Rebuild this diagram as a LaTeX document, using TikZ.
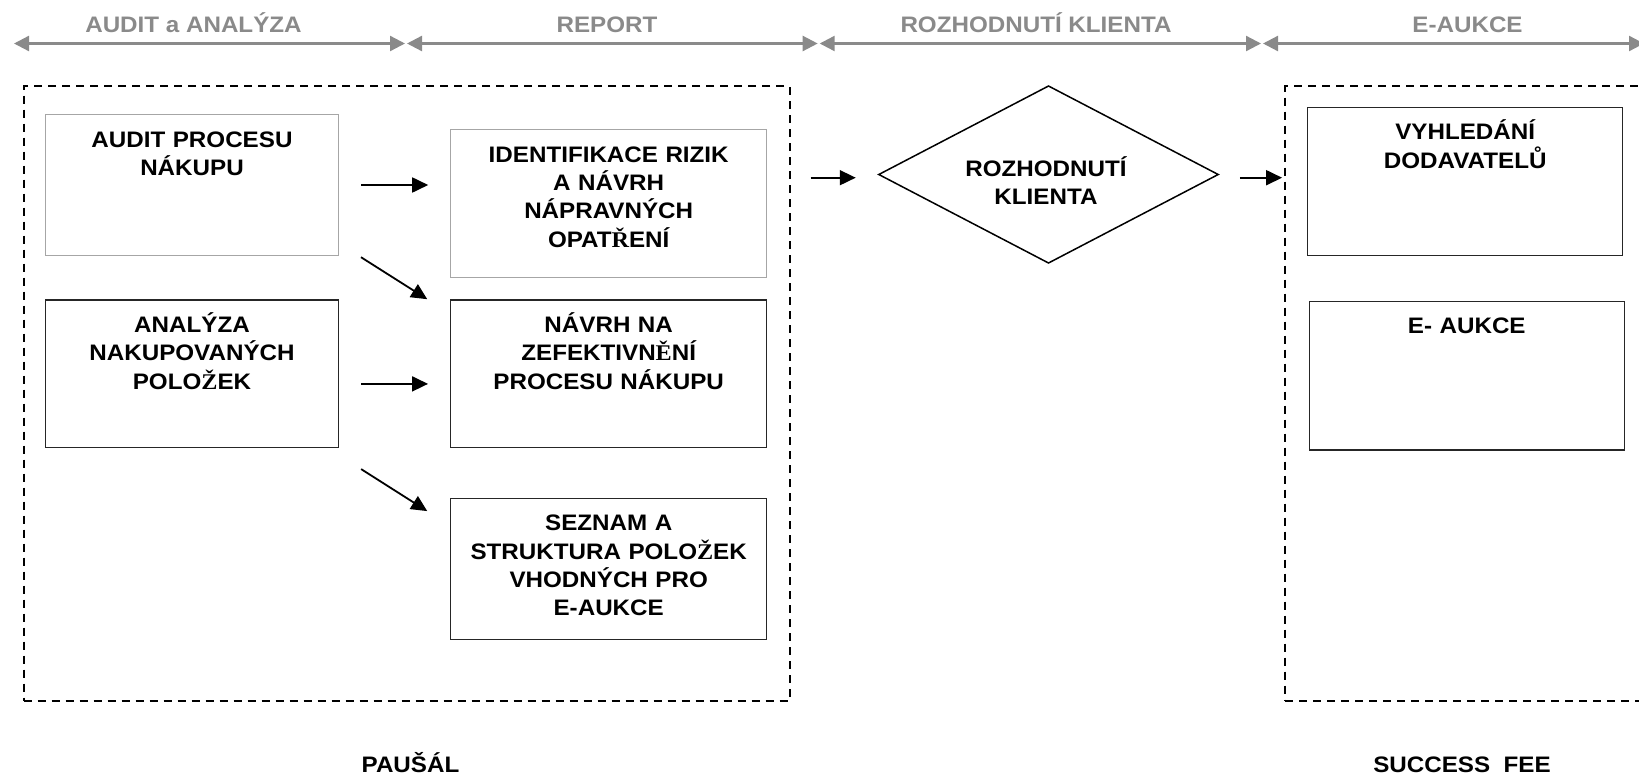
\documentclass[tikz,border=0pt]{standalone}
\usepackage{fontspec}
\setmainfont[FakeStretch=1.08]{Liberation Sans}
\newfontfamily\tnr[FakeStretch=1.08]{Liberation Serif}
\usepackage{tikz}
\usetikzlibrary{shapes.geometric, positioning, arrows.meta}
\definecolor{phasegray}{HTML}{8A8A8A}
\definecolor{lightframe}{HTML}{A6A6A6}
\newcommand{\srf}[1]{{\tnr\bfseries #1}} % a few letters come out in a serif face
\tikzset{
x=1pt, y=-1pt, % one unit is one pixel of the original, y runs down
bigfont/.style={font=\fontsize{22.4}{28.3}\selectfont\bfseries}, % all the text has one size
phase/.style={bigfont, text=phasegray, anchor=base, inner sep=0pt}, % headings over the time line
phasearrow/.style={{Triangle[length=15pt,width=15pt]}-{Triangle[length=15pt,width=15pt]}, draw=phasegray, line width=2.3pt, shorten <=1pt, shorten >=1pt},
box/.style={draw=black!85, line width=1.3pt, minimum width=293pt, minimum height=147.3pt, inner sep=0pt},
lightbox/.style={box, draw=lightframe, line width=1pt},
inbox/.style={bigfont, align=center, text width=310pt, anchor=base, yshift=-33.3pt, inner sep=0pt}, % text sits at the top of a box
dashgroup/.style={draw, dash pattern=on 8pt off 6pt, line width=2pt, inner sep=0pt, minimum height=614.5pt},
flow/.style={-{Triangle[length=16pt,width=15pt]}, line width=1.8pt, shorten <=22pt, shorten >=22pt},
}

\begin{document}
\begin{tikzpicture}
\useasboundingbox (0,0) rectangle (1639,777);
\clip (0,0) rectangle (1639,777);

% time line
\coordinate (t0) at (13,43.5);
\coordinate (t1) at (406,43.5);
\coordinate (t2) at (818.7,43.5);
\coordinate (t3) at (1262,43.5);
\coordinate (t4) at (1645,43.5);
\draw[phasearrow] (t0) -- (t1);
\draw[phasearrow] (t1) -- (t2);
\draw[phasearrow] (t2) -- (t3);
\draw[phasearrow] (t3) -- (t4);
\node[phase] (h1) at (193.5,32.3) {AUDIT a ANALÝZA};
\node[phase] (h2) at (607,32.3) {REPORT};
\node[phase] (h3) at (1036,32.3) {ROZHODNUTÍ KLIENTA};
\node[phase] (h4) at (1467.5,32.3) {E-AUKCE};

% dashed groups
\node[dashgroup, minimum width=766pt] (lgrp) at (406.6,393.3) {};
\node[dashgroup, minimum width=415pt] (rgrp) at (1492.6,393.3) {};

% boxes
\node[lightbox, minimum height=141.4pt] (audit) at (192,185) {};
\node[box, below=43pt of audit] (analyza) {};
\node[lightbox, minimum width=316pt, minimum height=148pt] (rizika) at (608.7,203.3) {};
\node[box, minimum width=316pt, below=21.4pt of rizika] (navrh) {};
\node[box, minimum width=316pt, minimum height=141.3pt, below=49.7pt of navrh] (seznam) {};
\node[diamond, draw, line width=1.5pt, minimum width=340pt, minimum height=177.6pt, inner sep=0pt] (rozh) at (1048.5,174.5) {};
\node[box, minimum width=315pt, minimum height=148.4pt] (vyhl) at (1465.2,181.5) {};
\node[box, minimum width=315pt, minimum height=148.7pt, below=44.3pt of vyhl, xshift=1.6pt] (eauk) {};

% texts
\node[inbox] (audit-t) at (audit.north) {AUDIT PROCESU\\NÁKUPU};
\node[inbox] (analyza-t) at (analyza.north) {ANALÝZA\\NAKUPOVANÝCH\\POLO\srf{Ž}EK};
\node[inbox] (rizika-t) at (rizika.north) {IDENTIFIKACE RIZIK\\A NÁVRH\\NÁPRAVNÝCH\\OPAT\srf{Ř}ENÍ};
\node[inbox] (navrh-t) at (navrh.north) {NÁVRH NA\\ZEFEKTIVN\srf{Ě}NÍ\\PROCESU NÁKUPU};
\node[inbox] (seznam-t) at (seznam.north) {SEZNAM A\\STRUKTURA POLO\srf{Ž}EK\\VHODNÝCH PRO\\E-AUKCE};
\node[inbox, yshift=33.3pt] (rozh-t) at ([xshift=-2.5pt,yshift=-1.5pt]rozh.center) {ROZHODNUTÍ\\KLIENTA};
\node[inbox] (vyhl-t) at (vyhl.north) {VYHLEDÁNÍ\\DODAVATELŮ};
\node[inbox] (eauk-t) at (eauk.north) {E- AUKCE};
\node[bigfont, anchor=base, inner sep=0pt] (pausal) at (410.5,772.4) {PAUŠÁL};
\node[bigfont, anchor=base, inner sep=0pt] (success) at (1462,772.4) {SUCCESS\ \ FEE};

% arrows
\draw[flow] (audit.east) -- (audit.east -| rizika.west);
\draw[flow, shorten <=0pt, shorten >=0pt] ([xshift=22pt,yshift=-1pt]audit.south east) -- ([xshift=-22.8pt]navrh.north west);
\draw[flow] ([yshift=-10.4pt]analyza.east) -- ([yshift=-10.4pt]navrh.west);
\draw[flow, shorten <=0pt, shorten >=0pt] ([xshift=22pt,yshift=-21.3pt]analyza.south east) -- ([xshift=-22.8pt,yshift=-13.6pt]seznam.north west);
\coordinate (din) at ([yshift=-3.2pt]rozh.west);
\coordinate (dout) at ([yshift=-3.2pt]rozh.east);
\draw[flow, shorten <=20pt] (din -| lgrp.east) -- (din);
\draw[flow, shorten <=20.6pt, shorten >=2pt] (dout) -- (dout -| rgrp.west);
\end{tikzpicture}
\end{document}
